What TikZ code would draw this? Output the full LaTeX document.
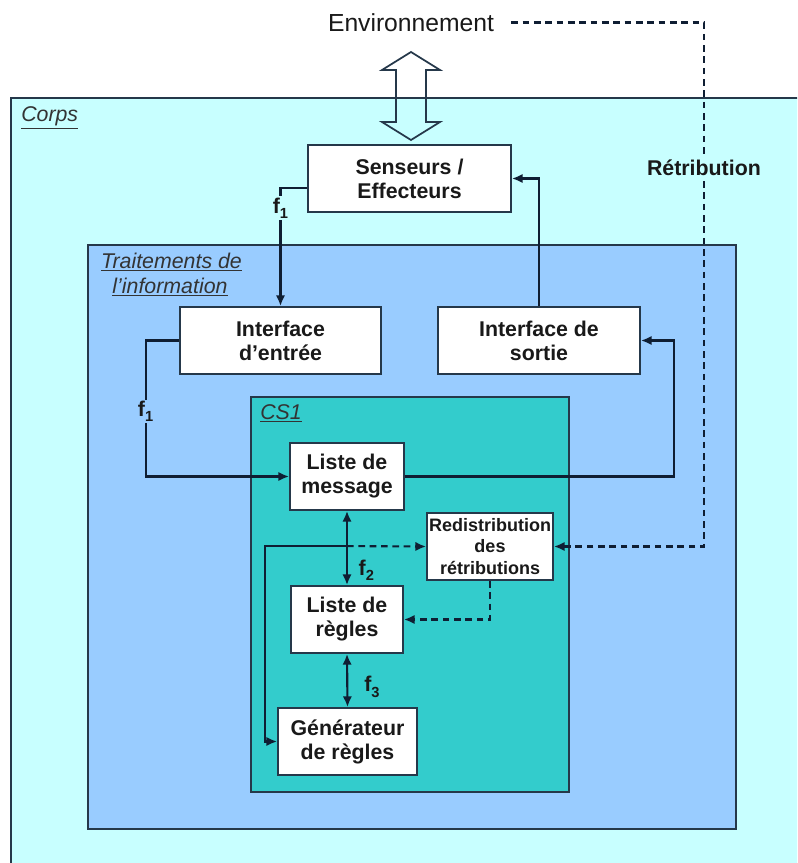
\documentclass[tikz,border=0pt]{standalone}
\usepackage{fontspec}
\setmainfont{Liberation Sans}
\usetikzlibrary{arrows.meta,calc}
\definecolor{corpsC}{HTML}{C8FFFF}
\definecolor{tradC}{HTML}{99CCFF}
\definecolor{csC}{HTML}{33CCCC}
\definecolor{edgeC}{HTML}{25384A}
\definecolor{lineC}{HTML}{0F1E33}
\newcommand\fsub[2]{#1\raisebox{-0.45ex}{\fontsize{11}{11}\selectfont #2}}
\begin{document}
\begin{tikzpicture}[x=0.75pt,y=-0.75pt,
  box/.style={draw=edgeC, line width=1.4pt, fill=white, align=center, inner sep=0pt,
    minimum height=50.25pt, font=\fontsize{16}{18}\selectfont\bfseries, text=black!90},
  cont/.style={draw=edgeC, line width=1.5pt},
  arr/.style={draw=lineC, line width=1.6pt, -{Latex[length=8pt,width=7pt]}},
  arrb/.style={draw=lineC, line width=1.6pt, {Latex[length=8pt,width=7pt]}-{Latex[length=8pt,width=7pt]}},
  dsh/.style={dash pattern=on 5pt off 3.5pt},
  lbl/.style={font=\fontsize{16}{18}\selectfont\bfseries, inner sep=1pt, text=black!90},
  ttl/.style={font=\fontsize{16}{18}\selectfont\itshape, inner sep=0pt, text=black!80}
]
\useasboundingbox (0,0) rectangle (797,863);
\clip (0,0) rectangle (797,863);
\fill[white] (0,0) rectangle (797,863);
% containers
\draw[cont, fill=corpsC] (11,98) rectangle (810,880);
\draw[cont, fill=tradC] (88,245) rectangle (736,829);
\draw[cont, fill=csC] (251,397) rectangle (569,792);
\node[ttl, anchor=base west] (tcorps) at (21,122) {\underline{Corps}};
\node[ttl, anchor=base] (ttr1) at (171.5,268) {\underline{Traitements de}};
\node[ttl, anchor=base] (ttr2) at (170,293) {\underline{l’information}};
\node[ttl, anchor=base west] (tcs) at (260,419) {\underline{CS1}};
% environment
\node[font=\fontsize{18.5}{20}\selectfont, inner sep=0pt, text=black!90] (env) at (411,22.5) {Environnement};
\draw[draw=edgeC, line width=1.3pt] (411,52) -- (440,70) -- (426,70) -- (426,122) -- (440,122)
  -- (411,140) -- (382,122) -- (396,122) -- (396,70) -- (382,70) -- cycle;
% boxes
\node[box, minimum width=152.25pt] (sens) at (409.5,178.5) {Senseurs /\\Effecteurs};
\node[box, minimum width=150.75pt] (ie) at (280.5,340.5) {Interface\\d’entrée};
\node[box, minimum width=151.5pt] (is) at (539,340.5) {Interface de\\sortie};
\node[box, minimum width=85.5pt] (lm) at (347,476.5) {Liste de\\message};
\node[box, minimum width=94.5pt, font=\fontsize{13.5}{15.8}\selectfont\bfseries] (red) at (490,546.5) {Redistribution\\des\\rétributions};
\node[box, minimum width=84pt] (lr) at (347,619.5) {Liste de\\règles};
\node[box, minimum width=104.25pt] (gen) at (347.5,741.5) {Générateur\\de règles};
% connectors
\draw[arr] ([yshift=-7pt]sens.west) -| node[lbl, fill=corpsC, pos=0.585] {\fsub{f}{1}} (ie.north);
\draw[arr] (is.north) |- (sens.east);
\draw[arr] (ie.west) -- ++(-33.5,0) |- node[lbl, fill=tradC, pos=0.26] {\fsub{f}{1}} (lm.west);
\draw[arr] (lm.east) -| ([xshift=25pt]is.east) -- (is.east);
\draw[arrb] (lm.south) -- node[lbl, pos=0.8, right=7pt] {\fsub{f}{2}} (lr.north);
\draw[arrb] (lr.south) -- node[lbl, pos=0.62, right=11pt] {\fsub{f}{3}} (gen.north);
\coordinate (j) at ($(lm.south)!0.474!(lr.north)$);
\draw[arr] (j) -- ++(-82,0) |- (gen.west);
\draw[arr, dsh] (j) -- (red.west);
\draw[arr, dsh] (red.south) |- (lr.east);
\coordinate (rc) at ($(red.east)+(150,0)$);
\draw[arr, dsh] ([xshift=12.75pt]env.east) -| node[lbl, fill=corpsC, pos=0.639, inner sep=3pt] {Rétribution} (rc) -- (red.east);
\end{tikzpicture}
\end{document}
